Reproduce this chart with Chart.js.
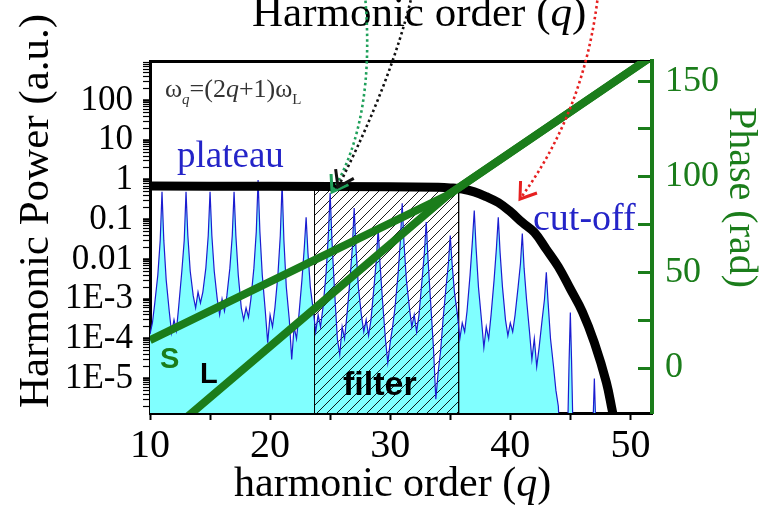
<!DOCTYPE html>
<html>
<head>
<meta charset="utf-8">
<script src="https://cdn.jsdelivr.net/npm/chart.js@4.4.1/dist/chart.umd.min.js"></script>
<style>
  body { margin: 0; background: #fff; }
</style>
</head>
<body>
<canvas id="hhg" width="770" height="512"></canvas>
<script>
// harmonic spectrum (blue curve, cyan fill)
const spectrumQ = [
  10.0, 10.2, 10.4, 10.65, 10.85, 11.0, 11.15, 11.35, 11.6, 11.8,
  12.0, 12.2, 12.4, 12.65, 12.85, 13.0, 13.15, 13.35, 13.6, 13.8,
  14.0, 14.2, 14.4, 14.65, 14.85, 15.0, 15.15, 15.35, 15.6, 15.8,
  16.0, 16.2, 16.4, 16.65, 16.85, 17.0, 17.15, 17.35, 17.6, 17.8,
  18.0, 18.2, 18.4, 18.65, 18.85, 19.0, 19.15, 19.35, 19.6, 19.8,
  20.0, 20.2, 20.4, 20.65, 20.85, 21.0, 21.15, 21.35, 21.6, 21.8,
  22.0, 22.2, 22.4, 22.65, 22.85, 23.0, 23.15, 23.35, 23.6, 23.8,
  24.0, 24.2, 24.4, 24.65, 24.85, 25.0, 25.15, 25.35, 25.6, 25.8,
  26.0, 26.2, 26.4, 26.65, 26.85, 27.0, 27.15, 27.35, 27.6, 27.8,
  28.0, 28.2, 28.4, 28.65, 28.85, 29.0, 29.15, 29.35, 29.6, 29.8,
  30.0, 30.2, 30.4, 30.65, 30.85, 31.0, 31.15, 31.35, 31.6, 31.8,
  32.0, 32.2, 32.4, 32.65, 32.85, 33.0, 33.15, 33.35, 33.6, 33.8,
  34.0, 34.2, 34.4, 34.65, 34.85, 35.0, 35.15, 35.35, 35.6, 35.8,
  36.0, 36.2, 36.4, 36.65, 36.85, 37.0, 37.15, 37.35, 37.6, 37.8,
  38.0, 38.2, 38.4, 38.65, 38.85, 39.0, 39.15, 39.35, 39.6, 39.8,
  40.0, 40.2, 40.4, 40.65, 40.85, 41.0, 41.15, 41.35, 41.6, 41.8,
  42.0, 42.2, 42.4, 42.65, 42.85, 43.0, 43.15, 43.35, 43.6, 43.8,
  44.0, 44.2, 44.6, 44.8, 44.9, 45.0, 45.1, 45.2, 45.6, 45.8,
  46.0, 46.2, 46.6, 46.8, 46.9, 47.0, 47.1, 47.2, 47.6, 47.8,
  48.0, 50.0, 52.0
];
const spectrumPower = [
  1.3e-4, 2.5e-4, 8e-4, 4e-3, 0.03, 0.5, 0.03, 3e-3, 5e-4, 1.4e-4,
  3e-4, 1.6e-4, 7e-4, 5e-3, 0.03, 0.5, 0.04, 5e-3, 1.2e-3, 6e-4,
  1.5e-3, 8e-4, 1.5e-3, 6e-3, 0.04, 0.5, 0.04, 5e-3, 1e-3, 4e-4,
  1e-3, 5e-4, 1.2e-3, 6e-3, 0.04, 0.5, 0.04, 4e-3, 6e-4, 3e-4,
  6e-4, 3.5e-4, 1e-3, 6e-3, 0.05, 1.0, 0.05, 4e-3, 5e-4, 8e-5,
  4e-4, 2e-4, 6e-4, 4e-3, 0.04, 0.8, 0.03, 2e-3, 3e-4, 3e-5,
  2e-4, 1e-4, 4e-4, 3e-3, 0.02, 0.115, 0.015, 2e-3, 5e-4, 1.5e-4,
  4e-4, 2e-4, 6e-4, 4e-3, 0.04, 0.47, 0.03, 2e-3, 1e-4, 4e-5,
  2e-4, 1e-4, 4e-4, 3e-3, 0.02, 0.195, 0.02, 2e-3, 4e-4, 1.5e-4,
  3e-4, 1.2e-4, 3e-4, 2e-3, 0.01, 0.06, 0.008, 1e-3, 1e-4, 2.5e-5,
  8e-5, 2e-4, 6e-4, 4e-3, 0.03, 0.26, 0.025, 3e-3, 6e-4, 2e-4,
  4e-4, 1.5e-4, 4e-4, 3e-3, 0.015, 0.087, 0.01, 1e-3, 6e-5, 3e-6,
  1.5e-5, 5e-5, 3e-4, 2e-3, 0.008, 0.04, 0.008, 1.5e-3, 4e-4, 1e-4,
  2.5e-4, 1.5e-4, 5e-4, 4e-3, 0.03, 0.17, 0.02, 2e-3, 3e-4, 6e-5,
  2e-4, 1e-4, 4e-4, 3e-3, 0.02, 0.115, 0.015, 2e-3, 3e-4, 1.2e-4,
  2.5e-4, 1.5e-4, 4e-4, 2e-3, 0.008, 0.045, 0.006, 1e-3, 1.5e-4, 3e-5,
  1e-4, 2e-5, 6e-5, 3e-4, 1e-3, 0.0047, 8e-4, 1e-4, 2e-5, 5e-6,
  2e-6, 1e-7, 1e-7, 1e-6, 3e-5, 4.6e-4, 3e-5, 1e-6, 1e-7, 1e-7,
  1e-7, 1e-7, 1e-7, 1e-7, 1e-6, 1e-5, 1e-6, 1e-7, 1e-7, 1e-7,
  1e-7, 1e-7, 1e-7
];

// black envelope (plateau + cut-off)
const envelopeQ = [10, 20, 30, 34, 35, 36, 37, 38, 39, 40, 41, 42, 43, 44, 45, 46, 47, 48, 48.5, 48.9];
const envelopePower = [0.7, 0.69, 0.67, 0.65, 0.63, 0.59, 0.5, 0.38, 0.27, 0.16, 0.085, 0.048, 0.018, 0.0065, 1.8e-3, 4.8e-4, 8e-5, 8e-6, 1.5e-6, 4e-7];

// harmonic phase (rad), short and long trajectories
const shortQ = [10, 34.8, 51.8];
const shortPhase = [14.6, 90.4, 163];
const longQ = [12, 34.8, 51.8];
const longPhase = [-31.4, 90.4, 163];

// spectral filter window (harmonic range, and the power level it reaches up to)
const filterQ = [23.7, 35.7];
const filterTop = 0.6;

const orderTicks = [10, 20, 30, 40, 50];
const orderMinorTicks = [15, 25, 35, 45];
const powerTicks = [1e-5, 1e-4, 1e-3, 0.01, 0.1, 1, 10, 100];
const powerTickLabels = ['1E-5', '1E-4', '1E-3', '0.01', '0.1', '1', '10', '100'];
const phaseTicks = [0, 50, 100, 150];
const phaseMinorTicks = [25, 75, 125];

const SERIF = '"Liberation Serif", "Times New Roman", serif';
const SANS = '"Liberation Sans", Arial, sans-serif';
const GREEN = '#1b7d1b';

const pts = (xs, ys) => xs.map((x, i) => ({ x: x, y: ys[i] }));

const canvas = document.getElementById('hhg');
const ctx = canvas.getContext('2d');

// diagonal hatch for the filter box
const tile = document.createElement('canvas');
tile.width = 10; tile.height = 10;
const tg = tile.getContext('2d');
tg.strokeStyle = '#000';
tg.lineWidth = 0.9;
tg.beginPath();
tg.moveTo(0, 10); tg.lineTo(10, 0);
tg.moveTo(-1, 1); tg.lineTo(1, -1);
tg.moveTo(9, 11); tg.lineTo(11, 9);
tg.stroke();
const hatch = ctx.createPattern(tile, 'repeat');

function runs(c, x, y, parts, color) {
  c.fillStyle = color;
  parts.forEach(p => {
    c.font = p[1];
    c.fillText(p[0], x, y + (p[2] || 0));
    x += c.measureText(p[0]).width;
  });
}

function arrow(c, color, p0, cp, p1) {
  c.strokeStyle = color;
  c.lineWidth = 2.6;
  c.setLineDash([2.5, 3]);
  c.beginPath();
  c.moveTo(p0[0], p0[1]);
  c.quadraticCurveTo(cp[0], cp[1], p1[0], p1[1]);
  c.stroke();
  c.setLineDash([]);
  const a = Math.atan2(p1[1] - cp[1], p1[0] - cp[0]);
  c.lineWidth = 3;
  c.beginPath();
  c.moveTo(p1[0] - 18 * Math.cos(a - 0.6), p1[1] - 18 * Math.sin(a - 0.6));
  c.lineTo(p1[0], p1[1]);
  c.lineTo(p1[0] - 18 * Math.cos(a + 0.6), p1[1] - 18 * Math.sin(a + 0.6));
  c.stroke();
}

const annotations = {
  id: 'annotations',
  afterDraw(chart) {
    const c = chart.ctx;
    c.save();
    c.textAlign = 'left';
    c.textBaseline = 'alphabetic';

    // titles
    runs(c, 252, 26, [['Harmonic order (', '43px ' + SERIF], ['q', 'italic 43px ' + SERIF], [')', '43px ' + SERIF]], '#000');
    runs(c, 234, 496, [['harmonic order (', '42px ' + SERIF], ['q', 'italic 42px ' + SERIF], [')', '42px ' + SERIF]], '#000');

    c.save();
    c.translate(48, 408);
    c.rotate(-Math.PI / 2);
    runs(c, 0, 0, [['Harmonic Power (a.u.)', '43px ' + SERIF]], '#000');
    c.restore();

    c.save();
    c.translate(730, 107);
    c.rotate(Math.PI / 2);
    runs(c, 0, 0, [['Phase (rad)', '40px ' + SERIF]], GREEN);
    c.restore();

    // in-plot labels
    runs(c, 165, 97, [
      ['\u03c9', '26px ' + SERIF], ['q', 'italic 15px ' + SERIF, 7],
      ['=(2', '26px ' + SERIF], ['q', 'italic 26px ' + SERIF],
      ['+1)\u03c9', '26px ' + SERIF], ['L', '15px ' + SERIF, 7]
    ], '#333');
    runs(c, 177, 167, [['plateau', '37px ' + SERIF]], '#2424c8');
    runs(c, 533, 230, [['cut-off', '38px ' + SERIF]], '#2424c8');
    runs(c, 160, 368, [['S', 'bold 29px ' + SANS]], GREEN);
    runs(c, 200, 383, [['L', 'bold 29px ' + SANS]], '#000');
    runs(c, 343, 395, [['filter', 'bold 34px ' + SANS]], '#000');

    // dotted arrows
    arrow(c, '#1fa05a', [365, -5], [376, 120], [332, 192]);
    arrow(c, '#111', [412, -5], [392, 80], [338, 187]);
    arrow(c, '#e62020', [598, -5], [585, 110], [520, 199]);
    c.restore();
  }
};

const isDecade = v => Math.abs(Math.log10(v) - Math.round(Math.log10(v))) < 1e-6;

new Chart(ctx, {
  type: 'line',
  data: {
    datasets: [
      { label: 'S', data: pts(shortQ, shortPhase), yAxisID: 'yR', borderColor: GREEN, borderWidth: 8, pointRadius: 0, tension: 0, order: 1, clip: 0 },
      { label: 'L', data: pts(longQ, longPhase), yAxisID: 'yR', borderColor: GREEN, borderWidth: 8, pointRadius: 0, tension: 0, order: 2, clip: 0 },
      { label: 'envelope', data: pts(envelopeQ, envelopePower), yAxisID: 'y', borderColor: '#000', borderWidth: 9, pointRadius: 0, tension: 0.4, order: 3, clip: 0 },
      { label: 'spectrum', data: pts(spectrumQ, spectrumPower), yAxisID: 'y', borderColor: '#1c1cd0', borderWidth: 1.2, pointRadius: 0, tension: 0, fill: false, order: 4, clip: 0 },
      { label: 'filter', data: [
          { x: filterQ[0], y: 1e-7 }, { x: filterQ[0], y: filterTop },
          { x: filterQ[1], y: filterTop }, { x: filterQ[1], y: 1e-7 }
        ], yAxisID: 'y', borderColor: '#000', borderWidth: 1, backgroundColor: hatch, fill: 'start', pointRadius: 0, tension: 0, order: 5, clip: 0 },
      { label: 'spectrum fill', data: pts(spectrumQ, spectrumPower), yAxisID: 'y', borderWidth: 0, backgroundColor: '#80ffff', fill: 'start', pointRadius: 0, tension: 0, order: 6, clip: 0 }
    ]
  },
  options: {
    responsive: false,
    animation: false,
    devicePixelRatio: 1,
    events: [],
    layout: { padding: { top: 61, left: 0, right: 0, bottom: 0 } },
    plugins: { legend: { display: false }, tooltip: { enabled: false } },
    scales: {
      x: {
        type: 'linear', position: 'bottom', min: 10, max: 51.8, z: 1,
        border: { color: '#000', width: 3 },
        grid: { drawOnChartArea: false, tickLength: 7, tickWidth: 2, tickColor: '#000' },
        ticks: {
          color: '#000', padding: 2, autoSkip: false, maxRotation: 0,
          font: { family: SERIF, size: 40 },
          callback: v => orderTicks.includes(v) ? String(v) : ''
        },
        afterBuildTicks: s => { s.ticks = orderTicks.concat(orderMinorTicks).sort((a, b) => a - b).map(v => ({ value: v })); },
        afterFit: s => { s.height = 99; }
      },
      top: {
        type: 'linear', axis: 'x', position: 'top', min: 10, max: 51.8, z: 1,
        border: { color: '#000', width: 3 },
        grid: { display: false, drawTicks: false },
        ticks: { display: false },
        afterFit: s => { s.height = 0; }
      },
      y: {
        type: 'logarithmic', position: 'left', min: 1.35e-6, max: 990, z: 1,
        border: { color: '#000', width: 3 },
        grid: {
          drawOnChartArea: false, tickLength: 7, tickColor: '#000',
          tickWidth: c => (c.tick && isDecade(c.tick.value)) ? 2.5 : 1.2
        },
        ticks: {
          color: '#000', padding: 10, autoSkip: false,
          font: { family: SERIF, size: 35 },
          callback: v => {
            const i = powerTicks.findIndex(p => Math.abs(p - v) / p < 1e-6);
            return i >= 0 ? powerTickLabels[i] : '';
          }
        },
        afterBuildTicks: s => {
          const t = [];
          for (let e = -6; e <= 2; e++) {
            for (let m = 1; m <= 9; m++) {
              const v = m * Math.pow(10, e);
              if (v >= s.min && v <= s.max) t.push({ value: v });
            }
          }
          s.ticks = t;
        },
        afterFit: s => { s.width = 150; }
      },
      yR: {
        type: 'linear', position: 'right', min: -23.5, max: 160.5, z: 1,
        border: { color: GREEN, width: 4 },
        grid: { drawOnChartArea: false, tickLength: -14, tickWidth: 3, tickColor: GREEN },
        ticks: {
          color: GREEN, padding: 27, autoSkip: false,
          font: { family: SERIF, size: 36 },
          callback: v => phaseTicks.includes(v) ? String(v) : ''
        },
        afterBuildTicks: s => { s.ticks = phaseTicks.concat(phaseMinorTicks).sort((a, b) => a - b).map(v => ({ value: v })); },
        afterFit: s => { s.width = 118; }
      }
    }
  },
  plugins: [annotations]
});
</script>
</body>
</html>
